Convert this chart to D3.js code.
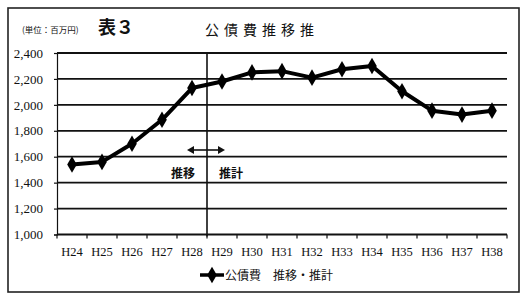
<!DOCTYPE html>
<html>
<head>
<meta charset="utf-8">
<script src="https://cdn.jsdelivr.net/npm/d3@7/dist/d3.min.js"></script>
<style>
  body { margin: 0; background: #fff; }
  svg text { font-family: "Noto Sans CJK JP", sans-serif; fill: #111; }
  svg text.num { font-family: "Liberation Serif", "DejaVu Serif", serif; }
</style>
</head>
<body>
<div id="chart"></div>
<script>
// data
var years = ["H24", "H25", "H26", "H27", "H28", "H29", "H30", "H31", "H32", "H33", "H34", "H35", "H36", "H37", "H38"];
var debtCost = [1540, 1560, 1700, 1885, 2130, 2180, 2250, 2260, 2210, 2275, 2300, 2105, 1955, 1925, 1955];
var yTicks = [1000, 1200, 1400, 1600, 1800, 2000, 2200, 2400];

var W = 532, H = 301;
var plotL = 57, plotR = 507, plotT = 53, plotB = 234.5;

var svg = d3.select('#chart').append('svg')
    .attr('width', W)
    .attr('height', H);

svg.append('rect').attr('width', W).attr('height', H).attr('fill', '#fff');

// outer frame
svg.append('rect')
    .attr('x', 8).attr('y', 8)
    .attr('width', 511).attr('height', 284)
    .attr('fill', 'none')
    .attr('stroke', '#222')
    .attr('stroke-width', 1.6);

var x = d3.scaleBand().domain(years).range([plotL, plotR]);
var y = d3.scaleLinear().domain([1000, 2400]).range([plotB, plotT]);

// gridlines
svg.append('g').selectAll('line')
    .data(yTicks.slice(1))
    .enter().append('line')
    .attr('x1', plotL).attr('x2', plotR)
    .attr('y1', function (d) { return y(d); })
    .attr('y2', function (d) { return y(d); })
    .attr('stroke', '#111')
    .attr('stroke-width', 1.8);

// y axis
var yAxis = svg.append('g')
    .attr('transform', 'translate(' + plotL + ',0)')
    .call(d3.axisLeft(y).tickValues(yTicks).tickSize(3).tickFormat(d3.format(',')));
yAxis.select('.domain').attr('stroke', '#111').attr('stroke-width', 1.2);
yAxis.selectAll('.tick line').attr('stroke', '#111').attr('stroke-width', 1.2);
yAxis.selectAll('text')
    .attr('class', 'num')
    .attr('x', -14)
    .style('font-size', '13px')
    .attr('fill', '#111');

// x axis with ticks at band edges
var xAxisG = svg.append('g').attr('transform', 'translate(0,' + plotB + ')');
xAxisG.append('line')
    .attr('x1', plotL).attr('x2', plotR)
    .attr('stroke', '#111').attr('stroke-width', 1.8);
var edges = years.map(function (d) { return x(d); }).concat([plotR]);
xAxisG.selectAll('line.tk')
    .data(edges)
    .enter().append('line')
    .attr('class', 'tk')
    .attr('x1', function (d) { return d; }).attr('x2', function (d) { return d; })
    .attr('y1', 0).attr('y2', 4)
    .attr('stroke', '#111').attr('stroke-width', 1.2);
xAxisG.selectAll('text')
    .data(years)
    .enter().append('text')
    .attr('class', 'num')
    .attr('x', function (d) { return x(d) + x.bandwidth() / 2; })
    .attr('y', 21)
    .attr('text-anchor', 'middle')
    .style('font-size', '12.5px')
    .text(function (d) { return d; });

// divider between actual and estimate
var divX = x('H29');
svg.append('line')
    .attr('x1', divX).attr('x2', divX)
    .attr('y1', plotT).attr('y2', plotB + 2)
    .attr('stroke', '#111').attr('stroke-width', 1.6);

// double arrow
var ay = 150;
svg.append('line')
    .attr('x1', divX - 17).attr('x2', divX + 15)
    .attr('y1', ay).attr('y2', ay)
    .attr('stroke', '#111').attr('stroke-width', 1.6);
svg.append('path')
    .attr('d', 'M' + (divX - 20) + ',' + ay + 'l7,-4l0,8z')
    .attr('fill', '#111');
svg.append('path')
    .attr('d', 'M' + (divX + 18) + ',' + ay + 'l-7,-4l0,8z')
    .attr('fill', '#111');
svg.append('text')
    .attr('x', divX - 24).attr('y', 178)
    .attr('text-anchor', 'middle')
    .style('font-size', '12px').style('font-weight', 'bold')
    .text('推移');
svg.append('text')
    .attr('x', divX + 24).attr('y', 178)
    .attr('text-anchor', 'middle')
    .style('font-size', '12px').style('font-weight', 'bold')
    .text('推計');

// series line
var line = d3.line()
    .x(function (d, i) { return x(years[i]) + x.bandwidth() / 2; })
    .y(function (d) { return y(d); });
svg.append('path')
    .datum(debtCost)
    .attr('d', line)
    .attr('fill', 'none')
    .attr('stroke', '#000')
    .attr('stroke-width', 4)
    .attr('stroke-linejoin', 'round');

var diamond = d3.symbol().type(d3.symbolDiamond).size(80);
svg.selectAll('.pt')
    .data(debtCost)
    .enter().append('path')
    .attr('class', 'pt')
    .attr('d', diamond)
    .attr('transform', function (d, i) {
        return 'translate(' + (x(years[i]) + x.bandwidth() / 2) + ',' + y(d) + ')';
    })
    .attr('fill', '#000');

// titles
svg.append('text')
    .attr('x', 22).attr('y', 33)
    .style('font-size', '8.5px')
    .text('(単位：百万円)');
svg.append('text')
    .attr('x', 98).attr('y', 34)
    .style('font-size', '18px').style('font-weight', 'bold')
    .text('表３');
svg.append('text')
    .attr('x', 205).attr('y', 35)
    .style('font-size', '14px')
    .style('letter-spacing', '5px')
    .text('公債費推移推');

// legend
var ly = 275;
svg.append('line')
    .attr('x1', 200).attr('x2', 224)
    .attr('y1', ly).attr('y2', ly)
    .attr('stroke', '#000').attr('stroke-width', 3.5);
svg.append('path')
    .attr('d', diamond)
    .attr('transform', 'translate(212,' + ly + ')')
    .attr('fill', '#000');
svg.append('text')
    .attr('x', 225).attr('y', ly + 5)
    .style('font-size', '12px')
    .text('公債費　推移・推計');
</script>
</body>
</html>
